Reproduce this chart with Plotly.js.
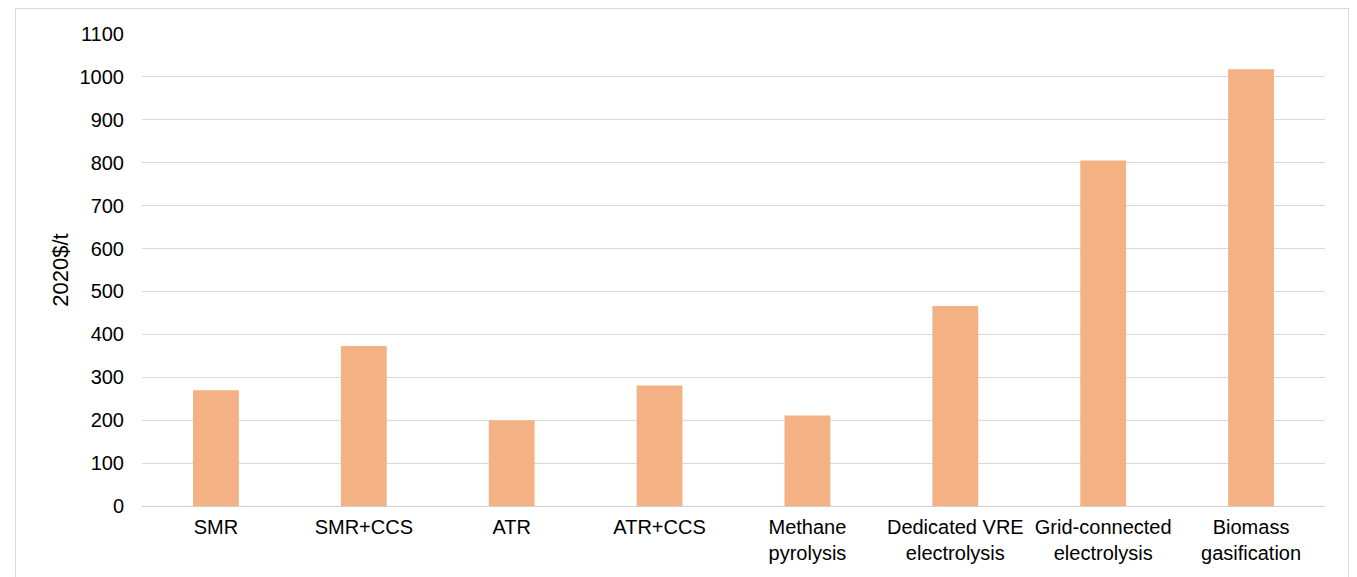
<!DOCTYPE html>
<html>
<head>
<meta charset="utf-8">
<script src="https://cdn.plot.ly/plotly-3.0.1.min.js"></script>
<style>
  html, body { margin: 0; padding: 0; background: #fff; }
  #wrap { position: relative; width: 1357px; height: 577px; overflow: hidden; }
  #chart { position: absolute; left: 0; top: 0; width: 1357px; height: 577px; }
  #frame { position: absolute; left: 15px; top: 8px; width: 1334px; height: 600px;
           border: 1px solid #d9d9d9; box-sizing: border-box; pointer-events: none; }
</style>
</head>
<body>
<div id="wrap">
  <div id="chart"></div>
  <div id="frame"></div>
</div>
<script>
const categories = [
  "SMR",
  "SMR+CCS",
  "ATR",
  "ATR+CCS",
  "Methane<br>pyrolysis",
  "Dedicated VRE<br>electrolysis",
  "Grid-connected<br>electrolysis",
  "Biomass<br>gasification"
];
const costValues = [270, 373, 200, 281, 211, 466, 805, 1018];
const yTickValues = [0, 100, 200, 300, 400, 500, 600, 700, 800, 900, 1000, 1100];
const yAxisTitle = "2020$/t";

const trace = {
  type: "bar",
  x: categories,
  y: costValues,
  marker: { color: "#F4B183", line: { width: 0 } },
  hoverinfo: "x+y"
};

const layout = {
  width: 1357,
  height: 577,
  margin: { l: 142, r: 32, t: 34, b: 71, pad: 0 },
  paper_bgcolor: "rgba(0,0,0,0)",
  plot_bgcolor: "rgba(0,0,0,0)",
  font: { family: "Liberation Sans, Arial, sans-serif", size: 20, color: "#000000" },
  bargap: 0.69,
  showlegend: false,
  xaxis: {
    type: "category",
    showgrid: false,
    showline: true,
    linecolor: "#d0d0d0",
    linewidth: 1,
    ticks: "outside",
    ticklen: 3,
    tickcolor: "rgba(0,0,0,0)",
    tickfont: { size: 20, color: "#000000" },
    automargin: false
  },
  yaxis: {
    range: [0, 1100],
    tickvals: yTickValues,
    ticktext: yTickValues.map(String),
    showgrid: true,
    gridcolor: "#d9d9d9",
    gridwidth: 1,
    zeroline: false,
    showline: false,
    ticks: "outside",
    ticklen: 13,
    tickcolor: "rgba(0,0,0,0)",
    tickfont: { size: 20, color: "#000000" },
    title: { text: yAxisTitle, font: { size: 22, color: "#000000" }, standoff: 4 },
    automargin: false
  }
};

Plotly.newPlot("chart", [trace], layout, { displayModeBar: false, staticPlot: true });
</script>
</body>
</html>
